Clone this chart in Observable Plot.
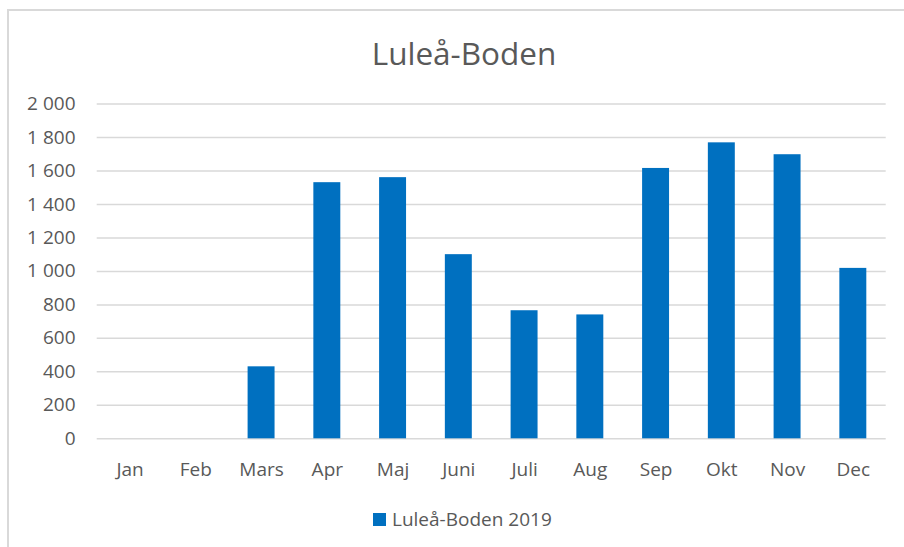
<!DOCTYPE html>
<html>
<head>
<meta charset="utf-8">
<script src="https://cdn.jsdelivr.net/npm/d3@7"></script>
<script src="https://cdn.jsdelivr.net/npm/@observablehq/plot@0.6"></script>
<style>
  html, body { margin: 0; padding: 0; background: #fff; }
  #wrap { position: relative; width: 904px; height: 547px; overflow: hidden; background: #fff; font-family: "Open Sans", sans-serif; color: #595959; }
  #frame { position: absolute; left: 7px; top: 9px; width: 910px; height: 560px; border-top: 2px solid #d9d9d9; border-left: 2px solid #d9d9d9; box-sizing: border-box; }
  #title { position: absolute; left: 12px; width: 904px; top: 37px; text-align: center; font-size: 31.5px; line-height: 31px; white-space: nowrap; }
  #chart { position: absolute; left: 0; top: 0; }
  #legend { position: absolute; left: 373px; top: 508px; font-size: 19px; line-height: 22px; white-space: nowrap; display: flex; align-items: center; }
  #legend .sw { width: 13px; height: 13px; background: #0070C0; margin-right: 6px; }
</style>
</head>
<body>
<div id="wrap">
  <div id="frame"></div>
  <div id="chart"></div>
  <div id="title">Luleå-Boden</div>
  <div id="legend"><span class="sw"></span><span>Luleå-Boden 2019</span></div>
</div>
<script>
const months = ["Jan", "Feb", "Mars", "Apr", "Maj", "Juni", "Juli", "Aug", "Sep", "Okt", "Nov", "Dec"];
const values2019 = [0, 0, 430, 1530, 1560, 1100, 765, 740, 1615, 1768, 1697, 1018];
const yTicks = [0, 200, 400, 600, 800, 1000, 1200, 1400, 1600, 1800, 2000];
const seriesName = "Luleå-Boden 2019";

const data = months.map((m, i) => ({ month: m, value: values2019[i] }));
const fmt = d => d3.format(",")(d).replace(/,/g, " ");

const chart = Plot.plot({
  width: 904,
  height: 547,
  marginTop: 103.5,
  marginBottom: 108.7,
  marginLeft: 96.7,
  marginRight: 18.3,
  style: { fontFamily: "Open Sans, sans-serif", fontSize: "19px", color: "#595959", background: "transparent" },
  x: { domain: months, paddingInner: 0.59, paddingOuter: 0.295, round: false, label: null, tickSize: 0, tickPadding: 24 },
  y: { domain: [0, 2000], ticks: yTicks, tickFormat: fmt, label: null, tickSize: 0, tickPadding: 21.7 },
  marks: [
    Plot.ruleY(yTicks, { stroke: "#d9d9d9", strokeWidth: 1.5 }),
    Plot.barY(data, { x: "month", y: "value", fill: "#0070C0" }),
    Plot.axisY({ ticks: yTicks, tickFormat: fmt, tickSize: 0, tickPadding: 21.7, label: null, fill: "#595959" }),
    Plot.axisX({ tickSize: 0, tickPadding: 24, label: null, fill: "#595959" })
  ]
});
document.getElementById("chart").appendChild(chart);
document.getElementById("legend").lastChild.textContent = seriesName;
</script>
</body>
</html>
